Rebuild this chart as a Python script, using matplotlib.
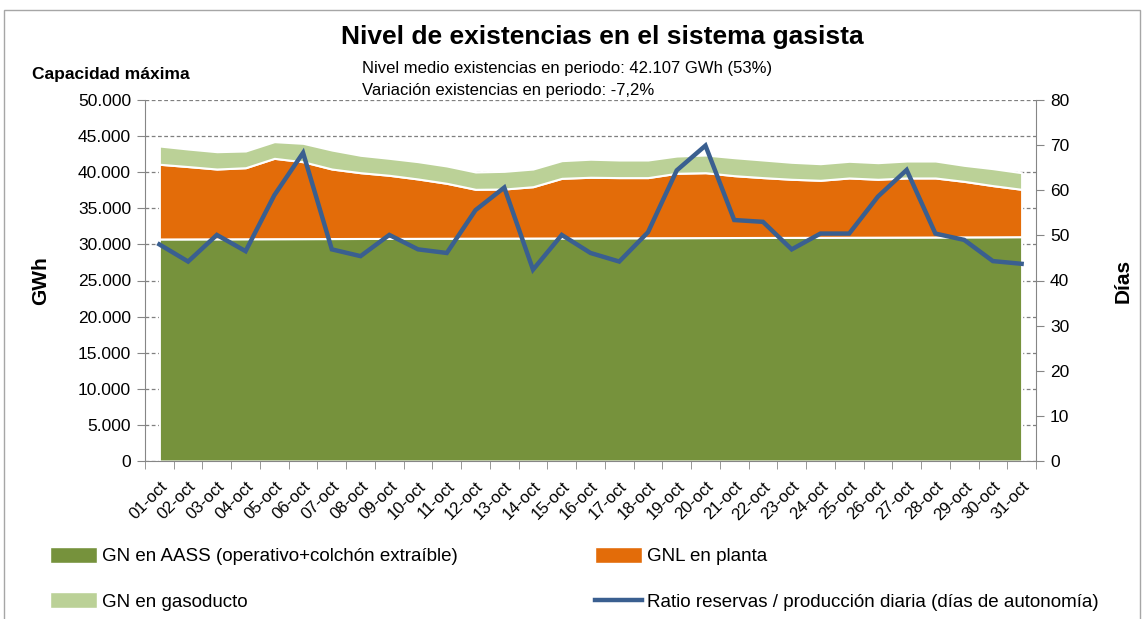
import matplotlib
matplotlib.use("Agg")
import matplotlib.pyplot as plt
import numpy as np
from matplotlib.patches import Patch, Rectangle
from matplotlib.lines import Line2D
from matplotlib.ticker import FuncFormatter

plt.rcParams['font.family'] = ['Liberation Sans', 'DejaVu Sans']

# ---- data ----
dias = [f"{d:02d}-oct" for d in range(1, 32)]

# GN en AASS (GWh)
aass = [30750, 30760, 30770, 30780, 30790, 30800, 30810, 30820, 30830, 30840,
        30850, 30860, 30870, 30880, 30890, 30900, 30910, 30920, 30930, 30940,
        30950, 30960, 30970, 30980, 30990, 31000, 31010, 31020, 31040, 31050, 31070]
# cumulative top of GNL en planta (AASS + GNL)
top_gnl = [41100, 40780, 40440, 40620, 41920, 41450, 40440, 39930, 39570, 39060,
           38460, 37630, 37670, 37990, 39150, 39300, 39250, 39250, 39850, 39930,
           39520, 39250, 39020, 38880, 39200, 39020, 39200, 39200, 38730, 38140, 37630]
# cumulative top of GN en gasoducto (total existencias)
top_total = [43630, 43210, 42840, 42940, 44230, 44000, 43070, 42340, 41920, 41460,
             40860, 40030, 40120, 40440, 41600, 41800, 41690, 41690, 42240, 42380,
             42010, 41690, 41370, 41180, 41510, 41320, 41550, 41550, 40950, 40490, 39930]
# Ratio reservas / produccion diaria (dias)
ratio = [48.0, 44.2, 50.1, 46.5, 58.9, 68.3, 46.9, 45.4, 50.1, 46.9,
         46.1, 55.6, 60.6, 42.4, 50.1, 46.1, 44.2, 50.7, 64.4, 69.9,
         53.4, 53.0, 46.9, 50.4, 50.4, 58.6, 64.5, 50.4, 49.0, 44.3, 43.7]

c_aass = '#76923C'
c_gnl = '#E36C09'
c_gas = '#BBD197'
c_ratio = '#3A5F90'

fig = plt.figure(figsize=(11.45, 6.19), dpi=100)
W, H = 1145, 619

# outer frame like the source sheet
fig.patches.append(Rectangle((4 / W, -0.01), 1136 / W, 1 - 10 / H + 0.01,
                             transform=fig.transFigure, fill=False,
                             edgecolor='#A6A6A6', linewidth=1.0))

ax = fig.add_axes([145 / W, 1 - 461 / H, (1036 - 145) / W, (461 - 100) / H])
x = np.arange(len(dias))

ax.fill_between(x, 0, aass, color=c_aass, edgecolor='white', linewidth=1.5, zorder=2)
ax.fill_between(x, aass, top_gnl, color=c_gnl, edgecolor='white', linewidth=1.5, zorder=2)
ax.fill_between(x, top_gnl, top_total, color=c_gas, edgecolor='white', linewidth=1.5, zorder=2)

ax.set_xlim(-0.5, len(dias) - 0.5)
ax.set_ylim(0, 50000)
ax.set_yticks(np.arange(0, 50001, 5000))
ax.yaxis.set_major_formatter(FuncFormatter(lambda v, p: f"{int(v):,}".replace(',', '.')))
ax.grid(axis='y', linestyle=(0, (3, 2)), color='#7F7F7F', linewidth=0.9, zorder=0)
ax.set_axisbelow(True)

ax.set_xticks(x)
ax.set_xticklabels(dias, rotation=45, ha='right', rotation_mode='anchor', fontsize=12)
ax.set_xticks(np.arange(-0.5, len(dias)), minor=True)
ax.tick_params(axis='x', which='major', length=0, pad=13)
ax.tick_params(axis='x', which='minor', length=6, direction='out', color='#868686')
ax.tick_params(axis='y', length=6, direction='out', color='#868686', labelsize=12.5, pad=4)

for s in ['top', 'right']:
    ax.spines[s].set_visible(False)
for s in ['left', 'bottom']:
    ax.spines[s].set_color('#868686')
ax.set_ylabel('GWh', fontsize=15, fontweight='bold', labelpad=20)

ax2 = ax.twinx()
ax2.plot(x, ratio, color=c_ratio, linewidth=3.2, solid_joinstyle='miter', zorder=5)
ax2.set_ylim(0, 80)
ax2.set_yticks(np.arange(0, 81, 10))
ax2.tick_params(axis='y', length=6, direction='out', color='#868686', labelsize=12.5, pad=4)
for s in ['top', 'left', 'bottom']:
    ax2.spines[s].set_visible(False)
ax2.spines['right'].set_color('#868686')
ax2.set_ylabel('Días', fontsize=15, fontweight='bold', labelpad=32)

# titles and notes
fig.text(602 / W, 1 - 37 / H, 'Nivel de existencias en el sistema gasista',
         ha='center', va='center', fontsize=19, fontweight='bold')
fig.text(32 / W, 1 - 74 / H, 'Capacidad máxima', ha='left', va='center',
         fontsize=12.5, fontweight='bold')
fig.text(362 / W, 1 - 68 / H, 'Nivel medio existencias en periodo: 42.107 GWh (53%)',
         ha='left', va='center', fontsize=12)
fig.text(362 / W, 1 - 90 / H, 'Variación existencias en periodo: -7,2%',
         ha='left', va='center', fontsize=12)

# legend (two columns laid out like the original)
h_aass = Patch(facecolor=c_aass, edgecolor='white')
h_gnl = Patch(facecolor=c_gnl, edgecolor='white')
h_gas = Patch(facecolor=c_gas, edgecolor='white')
h_ratio = Line2D([], [], color=c_ratio, linewidth=3.2)

leg_kw = dict(frameon=False, fontsize=13.5, handlelength=2.5, handleheight=0.9,
              handletextpad=0.25, labelspacing=1.45, borderpad=0, borderaxespad=0)
fig.legend([h_aass, h_gas], ['GN en AASS (operativo+colchón extraíble)', 'GN en gasoducto'],
           loc='upper left', bbox_to_anchor=(50 / W, 1 - 547 / H), **leg_kw)
fig.legend([h_gnl, h_ratio], ['GNL en planta', 'Ratio reservas / producción diaria (días de autonomía)'],
           loc='upper left', bbox_to_anchor=(595 / W, 1 - 547 / H), **leg_kw)

fig.savefig('out.png', dpi=100)
